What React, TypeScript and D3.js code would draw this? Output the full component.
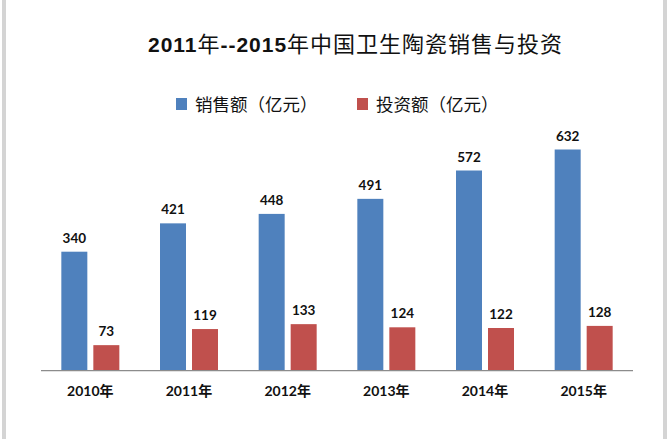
import React from "react";
import * as d3 from "d3";

const categories = ["2010年", "2011年", "2012年", "2013年", "2014年", "2015年"];
const seriesNames = ["销售额（亿元）", "投资额（亿元）"];
const sales = [340, 421, 448, 491, 572, 632];
const investment = [73, 119, 133, 124, 122, 128];
const colors = ["#4F81BD", "#C0504D"];
const titleParts = ["2011", "年", "--2015", "年中国卫生陶瓷销售与投资"];

export default function App() {
  const W = 669, H = 439;
  const axisY = 370.7;
  const x = d3.scaleBand().domain(categories).range([41, 633]).paddingInner(0).paddingOuter(0);
  const y = d3.scaleLinear().domain([0, 700]).range([axisY, axisY - 0.35 * 700]);
  const barW = 26, gap = 6;
  const series = [sales, investment];
  const labelFont = "Lato, 'Noto Sans CJK SC', sans-serif";
  const digitFont = "'Liberation Sans', Arial, sans-serif";
  const cjkFont = "'Noto Sans CJK SC', sans-serif";

  return (
    <svg width={W} height={H} style={{ position: "absolute", left: 0, top: 0, display: "block" }}>
      <rect x={0} y={0} width={W} height={H} fill="#ffffff" />
      <rect x={2} y={0} width={4} height={H} fill="#d4d4d4" />
      <rect x={663} y={0} width={4} height={H} fill="#d4d4d4" />
      <text x={148} y={52} textLength={414} lengthAdjust="spacing" fill="#111">
        {titleParts.map((p, i) => (
          <tspan
            key={i}
            fontFamily={i % 2 === 0 ? digitFont : cjkFont}
            fontWeight={i % 2 === 0 ? "bold" : "normal"}
            fontSize={i % 2 === 0 ? 21 : 22}
          >
            {p}
          </tspan>
        ))}
      </text>
      {seriesNames.map((name, i) => {
        const lx = i === 0 ? 176 : 357;
        return (
          <g key={name}>
            <rect x={lx} y={98} width={11} height={12} fill={colors[i]} />
            <text x={lx + 19} y={111} fontFamily={cjkFont} fontSize={17.5} fill="#111">
              {name}
            </text>
          </g>
        );
      })}
      {categories.map((c, ci) => {
        const cx = (x(c) as number) + x.bandwidth() / 2;
        return (
          <g key={c}>
            {series.map((s, si) => {
              const bx = si === 0 ? cx - gap / 2 - barW : cx + gap / 2;
              const top = y(s[ci]);
              return (
                <g key={si}>
                  <rect x={bx} y={top} width={barW} height={axisY - top} fill={colors[si]} />
                  <text x={bx + barW / 2} y={top - 9} textAnchor="middle" fontFamily={labelFont} fontWeight="bold" fontSize={13.5} fill="#111">
                    {s[ci]}
                  </text>
                </g>
              );
            })}
            <text x={cx} y={396} textAnchor="middle" fontFamily={labelFont} fontWeight="bold" fontSize={14} fill="#111">
              {c}
            </text>
          </g>
        );
      })}
      <line x1={41} x2={633} y1={axisY} y2={axisY} stroke="#8c8c8c" strokeWidth={1.2} />
    </svg>
  );
}
